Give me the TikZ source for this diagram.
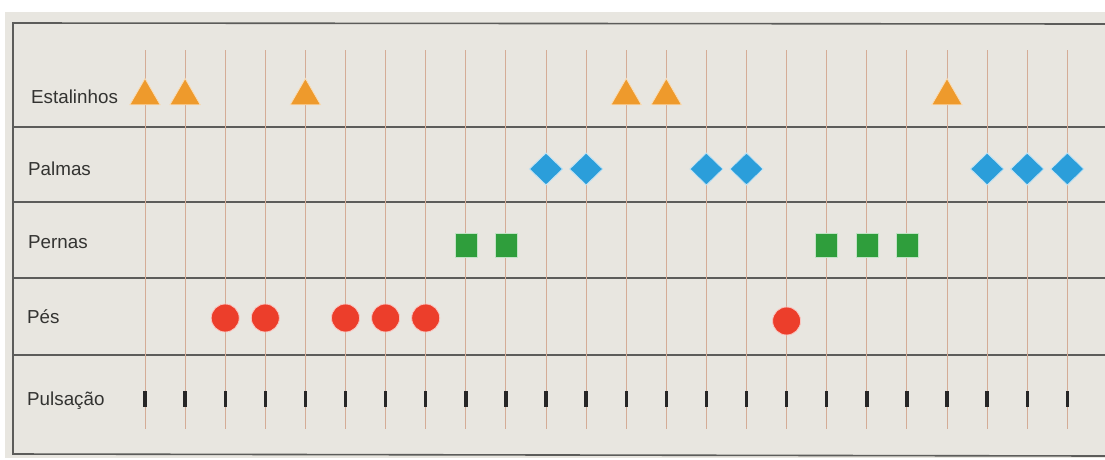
\documentclass[tikz,border=0pt]{standalone}
\usepackage{fontspec}
\setmainfont{Liberation Sans}
\usetikzlibrary{shapes.geometric}
\definecolor{panelbg}{HTML}{E8E6E0}
\definecolor{gridln}{HTML}{D4AC96}
\definecolor{rowln}{HTML}{5C5C5A}
\definecolor{txtc}{HTML}{333331}
\definecolor{triC}{HTML}{EE9A2C}
\definecolor{diaC}{HTML}{2B9EDA}
\definecolor{sqC}{HTML}{2F9E3C}
\definecolor{cirC}{HTML}{EC3E2B}
\tikzset{
  rowlabel/.style={anchor=base west, inner sep=0pt, text=txtc, font=\fontsize{18.8}{21}\selectfont},
  tri/.style={regular polygon, regular polygon sides=3, minimum size=35pt, inner sep=0pt, outer sep=0pt, fill=triC, draw=triC!35!white, line width=0.8pt},
  dia/.style={diamond, minimum width=33pt, minimum height=32pt, inner sep=0pt, outer sep=0pt, fill=diaC, draw=diaC!30!white, line width=0.8pt},
  sqr/.style={rectangle, minimum width=22pt, minimum height=24pt, inner sep=0pt, outer sep=0pt, fill=sqC, draw=sqC!30!white, line width=0.6pt},
  cir/.style={circle, minimum size=28pt, inner sep=0pt, outer sep=0pt, fill=cirC, draw=cirC!30!white, line width=0.8pt},
  pulse/.style={line width=3.4pt, draw=black!85},
  gridline/.style={draw=gridln, line width=0.9pt},
  rowline/.style={draw=rowln, line width=1.6pt}
}
\begin{document}
\begin{tikzpicture}[x=1pt,y=-1pt]
\useasboundingbox (0,0) rectangle (1105,459);
\fill[white] (0,0) rectangle (1105,459);
\fill[panelbg] (5,12) rectangle (1105,458);
% frame
\draw[rowline] (1105,24) -- (13,23) -- (13,454) -- (1105,456);
% row separators
\foreach \yy in {127,202,278,355}
  \draw[rowline] (13,\yy) -- (1105,\yy);
% vertical grid lines
\foreach \i in {0,...,23}{
  \coordinate (top\i) at ({145+40.1*\i},50);
  \coordinate (bot\i) at ({145+40.1*\i},429);
  \draw[gridline] (top\i) -- (bot\i);
}
% labels
\node[rowlabel] (lEst) at (31,103) {Estalinhos};
\node[rowlabel] (lPal) at (28,175) {Palmas};
\node[rowlabel] (lPer) at (28,248) {Pernas};
\node[rowlabel] (lPes) at (27,323) {Pés};
\node[rowlabel] (lPul) at (27,405) {Pulsação};
% Estalinhos
\foreach \i in {0,1,4,12,13,20}
  \node[tri] (t\i) at ({145+40.1*\i},96) {};
% Palmas
\foreach \i in {10,11,14,15,21,22,23}
  \node[dia] (d\i) at ({145+40.1*\i},169) {};
% Pernas
\foreach \i in {8,9,17,18,19}
  \node[sqr] (s\i) at ({145+40.1*\i},245) {};
% Pes
\foreach \i in {2,3,5,6,7}
  \node[cir] (c\i) at ({145+40.1*\i},318) {};
\node[cir] (c16) at ({145+40.1*16},321) {};
% Pulsacao
\foreach \i in {0,...,23}{
  \coordinate (pa\i) at ({145+40.1*\i},391);
  \coordinate (pb\i) at ({145+40.1*\i},407);
  \draw[pulse] (pa\i) -- (pb\i);
}
\end{tikzpicture}
\end{document}
